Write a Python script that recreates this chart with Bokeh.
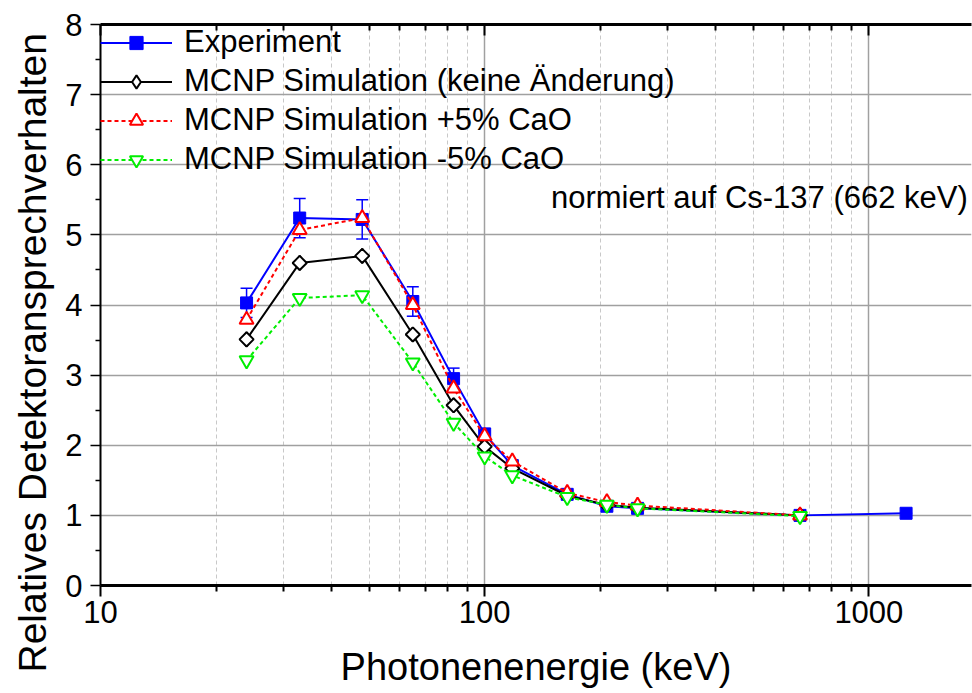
import math
from bokeh.plotting import figure
from bokeh.models import (ColumnDataSource, FixedTicker, LogAxis, Whisker, TeeHead,
                          Label, PrintfTickFormatter, Legend, LegendItem, Title)
from bokeh.embed import file_html
from bokeh.resources import INLINE

# ---------------- data ----------------
energy = [24, 33, 48, 65, 83, 100, 118, 164, 208, 250, 662, 1250]
experiment = [4.03, 5.24, 5.22, 4.05, 2.95, 2.16, 1.71, 1.30, 1.13, 1.10, 1.00, 1.03]
experiment_err = [0.21, 0.28, 0.28, 0.21, 0.15, 0.08, 0.06, 0.04, 0.03, 0.03, 0.0, 0.0]
energy_sim = [24, 33, 48, 65, 83, 100, 118, 164, 208, 250, 662]
sim_none = [3.51, 4.60, 4.70, 3.58, 2.57, 1.98, 1.67, 1.28, 1.15, 1.11, 1.00]
sim_plus5 = [3.79, 5.07, 5.24, 4.00, 2.81, 2.13, 1.77, 1.32, 1.19, 1.14, 1.00]
sim_minus5 = [3.21, 4.10, 4.14, 3.18, 2.32, 1.84, 1.57, 1.26, 1.15, 1.10, 0.99]

x_major = [10, 100, 1000]
x_minor = [20, 30, 40, 50, 60, 70, 80, 90, 200, 300, 400, 500, 600, 700, 800, 900]
y_major = [0, 1, 2, 3, 4, 5, 6, 7, 8]
y_minor = [0.5, 1.5, 2.5, 3.5, 4.5, 5.5, 6.5, 7.5]

labels = ["Experiment", "MCNP Simulation (keine Änderung)",
          "MCNP Simulation +5% CaO", "MCNP Simulation -5% CaO"]
x_title = "Photonenenergie (keV)"
y_title = "Relatives Detektoransprechverhalten"
note = "normiert auf Cs-137 (662 keV)"

FONT = "Liberation Sans"

p = figure(width=972, height=693, x_axis_type="log", x_range=(10, 1850), y_range=(0, 8),
           output_backend="svg", toolbar_location=None,
           min_border_left=100, min_border_right=1, min_border_top=24, min_border_bottom=108)
p.outline_line_color = None
p.background_fill_color = "white"
p.border_fill_color = "white"

# axes
xax = p.xaxis[0]
xax.ticker = FixedTicker(ticks=x_major, minor_ticks=x_minor)
xax.formatter = PrintfTickFormatter(format="%d")
xax.axis_label = x_title
xax.axis_label_text_font = FONT
xax.axis_label_text_font_size = "38px"
xax.axis_label_text_font_style = "normal"
xax.axis_label_text_color = "black"
xax.axis_label_standoff = 20
xax.major_label_text_font = FONT
xax.major_label_text_font_size = "31px"
xax.major_label_text_color = "black"
xax.major_label_standoff = 4
xax.axis_line_width = 3
xax.axis_line_color = "black"
xax.major_tick_in = 0
xax.major_tick_out = 11
xax.minor_tick_in = 0
xax.minor_tick_out = 6
xax.major_tick_line_width = 2
xax.minor_tick_line_width = 2

yax = p.yaxis[0]
yax.ticker = FixedTicker(ticks=y_major, minor_ticks=y_minor)
yax.major_label_text_font = FONT
yax.major_label_text_font_size = "31px"
yax.major_label_text_color = "black"
yax.major_label_standoff = 8
yax.axis_line_width = 2
yax.axis_line_color = "black"
yax.major_tick_in = 0
yax.major_tick_out = 10
yax.minor_tick_in = 0
yax.minor_tick_out = 5
yax.major_tick_line_width = 1.5
yax.minor_tick_line_width = 1.5

top = LogAxis(ticker=FixedTicker(ticks=x_major, minor_ticks=x_minor),
              formatter=PrintfTickFormatter(format="%d"),
              major_label_text_color=None, major_label_standoff=0,
              major_label_text_font_size="10px", axis_line_width=3,
              major_tick_in=11, major_tick_out=0, minor_tick_in=6, minor_tick_out=0,
              major_tick_line_width=2, minor_tick_line_width=2)
p.add_layout(top, "above")

# y axis title as a side title (allows offset like the reference)
ytitle = Title(text=y_title, align="left", offset=-87, text_font=FONT,
               text_font_size="39px", text_font_style="normal", text_color="black",
               standoff=16, vertical_align="middle")
p.add_layout(ytitle, "left")

# grids
p.xgrid.grid_line_color = "#a0a0a0"
p.xgrid.grid_line_width = 1.5
p.xgrid.minor_grid_line_color = "#c8c8c8"
p.xgrid.minor_grid_line_dash = "4 3"
p.xgrid.minor_grid_line_width = 1
p.ygrid.grid_line_color = "#a0a0a0"
p.ygrid.grid_line_width = 1.5

# experiment
src_exp = ColumnDataSource(dict(x=energy, y=experiment,
                                lo=[v - e for v, e in zip(experiment, experiment_err)],
                                hi=[v + e for v, e in zip(experiment, experiment_err)]))
l0 = p.line("x", "y", source=src_exp, color="#0000ff", line_width=2)
wh = Whisker(base="x", lower="lo", upper="hi", source=src_exp, line_color="#0000ff",
             line_width=1.5,
             upper_head=TeeHead(size=12, line_color="#0000ff", line_width=1.5),
             lower_head=TeeHead(size=12, line_color="#0000ff", line_width=1.5))
p.add_layout(wh)
m0 = p.scatter("x", "y", source=src_exp, marker="square", size=12, fill_color="#0000ff",
               line_color="#0000ff")

# simulations
l1 = p.line(energy_sim, sim_none, color="black", line_width=2)
# diamond glyph (used for the legend entry), covered by the rotated squares below
m1 = p.scatter(energy_sim, sim_none, marker="diamond", size=14, fill_color="white",
               line_color="black", line_width=2)
p.scatter(energy_sim, sim_none, marker="square", size=10, angle=math.pi / 4,
          fill_color="white", line_color="black", line_width=2)

l2 = p.line(energy_sim, sim_plus5, color="#ff0000", line_width=2, line_dash="4 3")
m2 = p.scatter(energy_sim, sim_plus5, marker="triangle", size=14, fill_color="white",
               line_color="#ff0000", line_width=2)

l3 = p.line(energy_sim, sim_minus5, color="#00ee00", line_width=2, line_dash="4 3")
m3 = p.scatter(energy_sim, sim_minus5, marker="inverted_triangle", size=14,
               fill_color="white", line_color="#00ee00", line_width=2)

# legend
lg = Legend(items=[LegendItem(label=labels[0], renderers=[l0, m0]),
                   LegendItem(label=labels[1], renderers=[l1, m1]),
                   LegendItem(label=labels[2], renderers=[l2, m2]),
                   LegendItem(label=labels[3], renderers=[l3, m3])],
            location="top_left", margin=0, padding=0, spacing=3,
            glyph_width=72, glyph_height=33, label_height=33, label_standoff=12,
            label_text_font=FONT, label_text_font_size="31px", label_text_color="black",
            border_line_color=None, background_fill_alpha=0)
p.add_layout(lg)

p.add_layout(Label(x=1810, y=5.54, text=note, text_align="right", text_baseline="middle",
                   text_font=FONT, text_font_size="31px", text_color="black"))

open("out.html", "w").write(file_html(p, INLINE))
